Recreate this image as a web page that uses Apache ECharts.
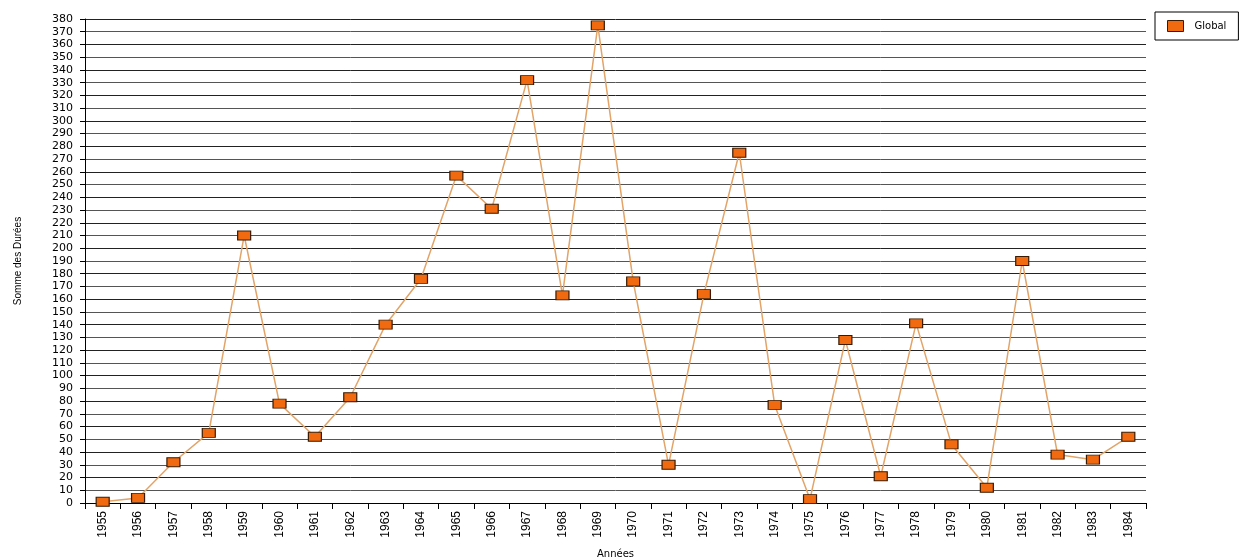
<!DOCTYPE html>
<html>
<head>
<meta charset="utf-8">
<script src="https://cdn.jsdelivr.net/npm/echarts@6/dist/echarts.min.js"></script>
<style>html,body{margin:0;padding:0;background:#fff;}#c{width:1247px;height:560px;}</style>
</head>
<body>
<div id="c"></div>
<script>
var categories = ['1955','1956','1957','1958','1959','1960','1961','1962','1963','1964','1965','1966','1967','1968','1969','1970','1971','1972','1973','1974','1975','1976','1977','1978','1979','1980','1981','1982','1983','1984'];
var globalValues = [1, 4, 32, 55, 210, 78, 52, 83, 140, 176, 257, 231, 332, 163, 375, 174, 30, 164, 275, 77, 3, 128, 21, 141, 46, 12, 190, 38, 34, 52];
var seriesName = 'Global';

var chart = echarts.init(document.getElementById('c'));
chart.setOption({
  animation: false,
  backgroundColor: '#fff',
  grid: {left: 85, right: 101, top: 19, bottom: 57, containLabel: false, outerBoundsMode: 'none'},
  legend: {
    data: [seriesName],
    left: 1155, top: 12,
    orient: 'vertical',
    borderColor: '#000', borderWidth: 1,
    padding: [8, 12, 8, 12],
    itemWidth: 16, itemHeight: 11,
    itemGap: 4,
    textStyle: {fontFamily: 'DejaVu Sans', fontSize: 10, color: '#000', padding: [0, 0, 0, 6]},
    icon: 'rect',
    itemStyle: {color: '#F26A10', borderColor: '#3a1a00', borderWidth: 1}
  },
  xAxis: {
    type: 'category',
    data: categories,
    boundaryGap: true,
    name: 'Années',
    nameLocation: 'middle',
    nameGap: 46,
    nameTextStyle: {fontFamily: 'DejaVu Sans', fontSize: 10, color: '#000'},
    axisLine: {lineStyle: {color: '#000', width: 1}},
    axisTick: {show: true, alignWithLabel: false, length: 6, lineStyle: {color: '#000'}},
    axisLabel: {rotate: 90, fontFamily: 'Liberation Sans Narrow, Liberation Sans', fontSize: 12, color: '#000', margin: 8},
    splitLine: {show: false}
  },
  yAxis: {
    type: 'value',
    min: 0, max: 380, interval: 10,
    name: 'Somme des Durées',
    nameLocation: 'middle',
    nameGap: 62,
    nameRotate: 90,
    nameTextStyle: {fontFamily: 'Liberation Sans Narrow, Liberation Sans', fontSize: 10, color: '#000'},
    axisLine: {show: true, lineStyle: {color: '#000', width: 1}},
    axisTick: {show: true, length: 5, lineStyle: {color: '#000'}},
    axisLabel: {fontFamily: 'DejaVu Sans', fontSize: 11, color: '#000', margin: 12},
    splitLine: {show: true, lineStyle: {color: ['#222', '#555'], width: 1}}
  },
  series: [{
    name: seriesName,
    type: 'line',
    data: globalValues,
    symbol: 'rect',
    symbolSize: [13, 9],
    showAllSymbol: true,
    lineStyle: {color: '#E2A468', width: 1.5},
    itemStyle: {color: '#F26A10', borderColor: '#3a1a00', borderWidth: 1}
  }]
});
</script>
</body>
</html>
